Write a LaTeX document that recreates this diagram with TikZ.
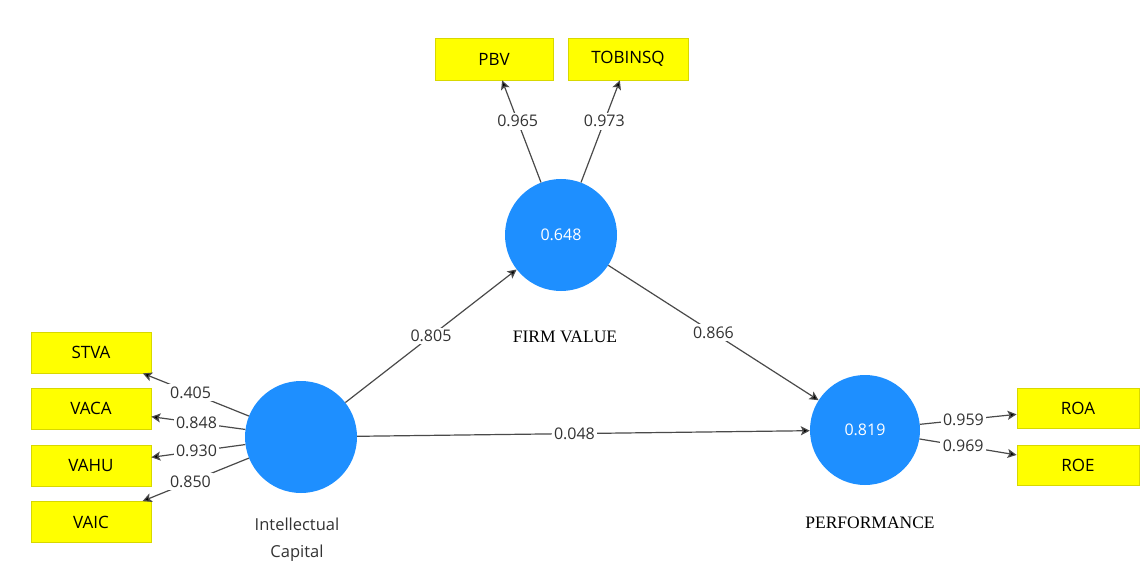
\documentclass[tikz,border=0pt]{standalone}
\usepackage{fontspec}
\setmainfont{Open Sans}
\newfontfamily\serifname{Liberation Serif}
\usetikzlibrary{arrows.meta}
\definecolor{lvblue}{HTML}{1E8FFF}
\definecolor{indyel}{HTML}{FFFF00}
\definecolor{indbord}{HTML}{D8D800}
\definecolor{linegray}{HTML}{4A4A4A}
\tikzset{
  latent/.style={circle, fill=lvblue, draw=none, minimum size=112pt, inner sep=0pt,
    text=white, font=\fontsize{16}{18}\selectfont},
  indicator/.style={rectangle, fill=indyel, draw=indbord, line width=0.8pt,
    minimum width=120pt, minimum height=41pt, inner sep=0pt, font=\fontsize{17}{19}\selectfont},
  conn/.style={draw=linegray, line width=1.2pt, -{Stealth[length=9pt,width=9pt,inset=2pt,fill=black]}},
  lbl/.style={fill=white, inner sep=2.5pt, text=black!80, font=\fontsize{16}{18}\selectfont},
  lvname/.style={font=\serifname\fontsize{17.5}{19}\selectfont, text=black},
  icname/.style={font=\fontsize{16.5}{27}\selectfont, align=center, text=black!80}
}
\begin{document}
\begin{tikzpicture}[x=1pt,y=-1pt]
\useasboundingbox[fill=white] (0,0) rectangle (1143,572);
% latent variables
\node[latent] (ic) at (301,437) {};
\node[latent] (fv) at (561,235) {0.648};
\node[latent, minimum size=110pt] (perf) at (865,430) {0.819};
% indicators
\node[indicator, minimum width=118pt, minimum height=42pt] (pbv) at (494,59) {PBV};
\node[indicator, minimum width=120pt, minimum height=42pt] (tob) at (628,59) {TOBINSQ};
\node[indicator] (stva) at (91,352.5) {STVA};
\node[indicator] (vaca) at (91,408.5) {VACA};
\node[indicator] (vahu) at (91,465.5) {VAHU};
\node[indicator] (vaic) at (91,522) {VAIC};
\node[indicator, minimum width=122pt, minimum height=40pt] (roa) at (1078,408) {ROA};
\node[indicator, minimum width=122pt, minimum height=40pt] (roe) at (1078,465) {ROE};
% names
\node[icname] (icn) at (297,540) {Intellectual\\Capital};
\node[lvname] (fvn) at (565,337) {FIRM VALUE};
\node[lvname] (perfn) at (870,523) {PERFORMANCE};
% structural paths
\draw[conn] (ic) -- node[lbl] (p1) {0.805} (fv);
\draw[conn] (fv) -- node[lbl] (p2) {0.866} (perf);
\draw[conn] (ic) -- node[lbl, pos=0.48] (p3) {0.048} (perf);
% outer loadings
\draw[conn] (fv) -- node[lbl, pos=0.6] (l1) {0.965} (pbv);
\draw[conn] (fv) -- node[lbl, pos=0.6] (l2) {0.973} (tob);
\draw[conn] (ic) -- node[lbl, pos=0.55] (l3) {0.405} (stva);
\draw[conn] (ic) -- node[lbl, pos=0.52] (l4) {0.848} (vaca);
\draw[conn] (ic) -- node[lbl, pos=0.52] (l5) {0.930} (vahu);
\draw[conn] (ic) -- node[lbl, pos=0.55] (l6) {0.850} (vaic);
\draw[conn] (perf) -- node[lbl, pos=0.45] (l7) {0.959} (roa);
\draw[conn] (perf) -- node[lbl, pos=0.45] (l8) {0.969} (roe);
\end{tikzpicture}
\end{document}
